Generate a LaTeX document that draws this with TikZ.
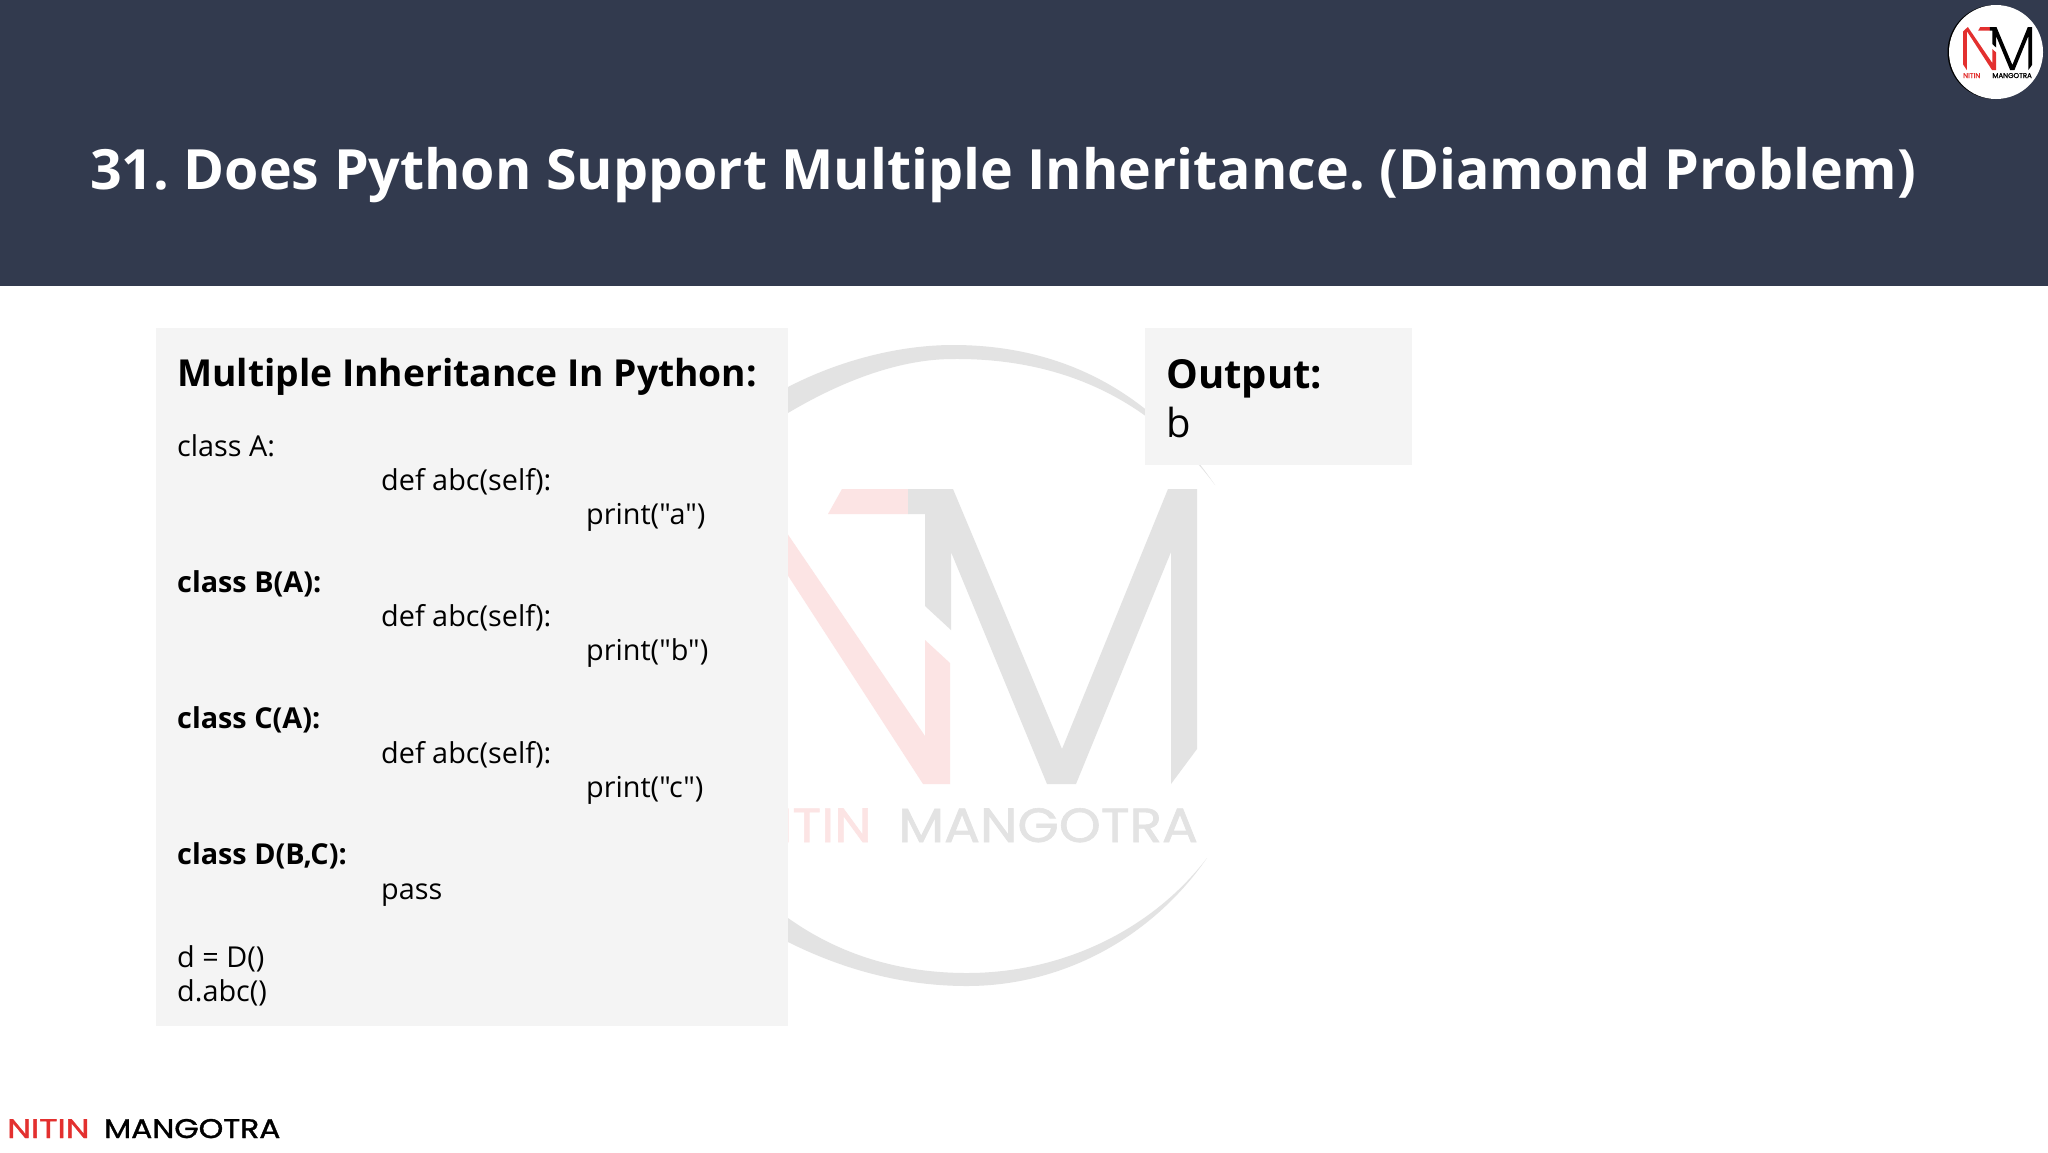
\documentclass[tikz,border=0pt]{standalone}
\usepackage{fontspec}
\setmainfont{Open Sans}
\newfontfamily\codefont{Open Sans}
\newfontfamily\logofont{Poppins}[FakeBold=1.2]
\definecolor{headerblue}{HTML}{323A4E}
\definecolor{panelgray}{HTML}{F4F4F4}
\definecolor{markgray}{HTML}{E3E3E3}
\definecolor{markred}{HTML}{FCE4E4}
\definecolor{logored}{HTML}{E3302F}
\tikzset{
  panel/.style={fill=panelgray,draw=none},
  codeline/.style={anchor=base west,inner sep=0pt,font=\codefont\fontsize{28.8}{34}\selectfont,text=black},
  codehead/.style={anchor=base west,inner sep=0pt,font=\fontsize{37.2}{44}\bfseries\selectfont,text=black},
  outhead/.style={anchor=base west,inner sep=0pt,font=\fontsize{40}{48}\bfseries\selectfont,text=black},
}
% N and M of the mark, in page pixels
\newcommand{\ntmmark}[2]{%
  \fill[#1] (842,489) -- (908,489) -- (908,514) -- (828,514) -- cycle;
  \fill[#1] (757,489) -- (925,736) -- (925,640) -- (950,663) -- (950,784) -- (923,784)
    -- (750,517) -- (750,784) -- (724,745) -- (724,520) -- cycle;
  \fill[#2] (908,489) -- (953,489) -- (1062,749) -- (1168,489) -- (1197,489) -- (1197,749)
    -- (1171,784) -- (1171,552) -- (1076,784) -- (1047,784) -- (951,552) -- (951,630)
    -- (925,606) -- (925,514) -- (908,514) -- cycle;
}
\begin{document}
\begin{tikzpicture}[x=1pt,y=-1pt]
\useasboundingbox (0,0) rectangle (2048,1152);
\fill[white] (0,0) rectangle (2048,1152);
\fill[headerblue] (0,0) rectangle (2048,286);
% watermark
\fill[markgray] (788,387) .. controls (840,360) and (900,345) .. (953,345)
  .. controls (1060,345) and (1150,390) .. (1215,485)
  .. controls (1150,398) and (1060,358) .. (953,359)
  .. controls (895,359) and (835,385) .. (788,413) -- cycle;
\fill[markgray] (788,942) .. controls (840,968) and (900,986) .. (967,986)
  .. controls (1060,986) and (1150,940) .. (1207,858)
  .. controls (1150,932) and (1060,973) .. (967,973)
  .. controls (900,973) and (840,955) .. (788,918) -- cycle;
\ntmmark{markred}{markgray}
\node[anchor=base east,inner sep=0pt,text=markred,font=\logofont\fontsize{48}{48}\selectfont,xscale=1.11] (markleft) at (872,842) {NITIN};
\node[anchor=base west,inner sep=0pt,text=markgray,font=\logofont\fontsize{48}{48}\selectfont,xscale=1.11] (markright) at (898,842) {MANGOTRA};
% panels
\fill[panel] (156,328) rectangle (788,1026);
\fill[panel] (1145,328) rectangle (1412,465);
% title
\node[anchor=base west,inner sep=0pt,text=white,font=\fontsize{55.5}{66}\bfseries\selectfont] (title) at (90,189)
  {\frenchspacing 31. Does Python Support Multiple Inheritance. (Diamond Problem)};
% code panel
\node[codehead] (codetitle) at (177,386) {Multiple Inheritance In Python:};
\node[codeline] (classa) at (177,456) {class A:};
\node[codeline] (defa) at (381,490) {def abc(self):};
\node[codeline] (printa) at (586,524) {print("a")};
\node[codeline] (classb) at (177,592) {\bfseries class B(A):};
\node[codeline] (defb) at (381,626) {def abc(self):};
\node[codeline] (printb) at (586,660) {print("b")};
\node[codeline] (classc) at (177,728) {\bfseries class C(A):};
\node[codeline] (defc) at (381,763) {def abc(self):};
\node[codeline] (printc) at (586,797) {print("c")};
\node[codeline] (classd) at (177,864) {\bfseries class D(B,C):};
\node[codeline] (passd) at (381,899) {pass};
\node[codeline] (maked) at (177,967) {d = D()};
\node[codeline] (callabc) at (177,1001) {d.abc()};
% output panel
\node[outhead] (outtitle) at (1166,388) {Output:};
\node[outhead,font=\fontsize{40}{48}\selectfont] (outvalue) at (1166,437) {b};
% corner logo
\fill[black] (1994.5,52) circle (47);
\fill[white] (1996,52) circle (47);
\begin{scope}[shift={(1963,27)},scale=.146,shift={(-724,-489)}]
\ntmmark{logored}{black}
\end{scope}
\node[anchor=base west,inner sep=0pt,text=logored,font=\logofont\fontsize{7}{7}\selectfont] (cornerleft) at (1963,78) {NITIN};
\node[anchor=base east,inner sep=0pt,text=black,font=\logofont\fontsize{7}{7}\selectfont] (cornerright) at (2032,78) {MANGOTRA};
% footer logo
\node[anchor=base west,inner sep=0pt,text=logored,font=\logofont\fontsize{27}{27}\selectfont,xscale=1.25] (footleft) at (7,1138) {NITIN};
\node[anchor=base west,inner sep=0pt,text=black,font=\logofont\fontsize{27}{27}\selectfont,xscale=1.16] (footright) at (104,1138) {MANGOTRA};
\end{tikzpicture}
\end{document}
